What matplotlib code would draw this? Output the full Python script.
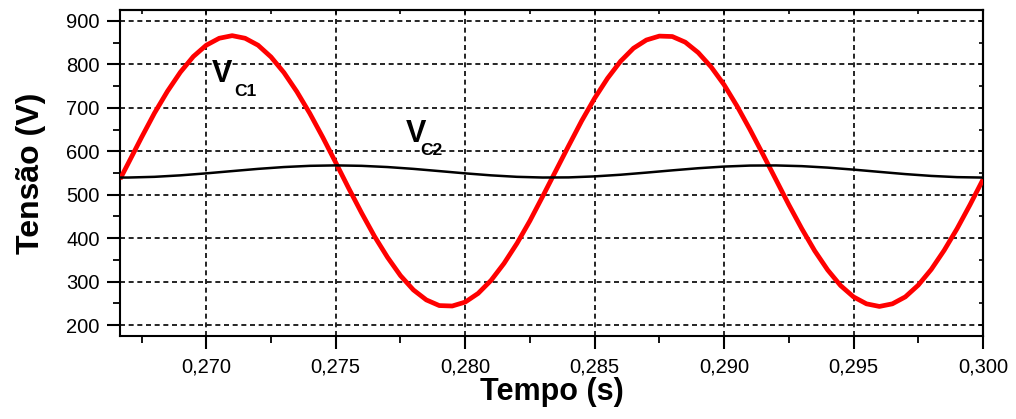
import matplotlib
matplotlib.use("Agg")
import matplotlib.pyplot as plt
from matplotlib.ticker import FixedLocator, FixedFormatter, MultipleLocator

plt.rcParams['font.family'] = ['Liberation Sans', 'DejaVu Sans']

# ---- data ----
t_vc1 = [0.26667, 0.2670, 0.2675, 0.2680, 0.2685, 0.2690, 0.2695, 0.2700, 0.2705,
         0.2710, 0.2715, 0.2720, 0.2725, 0.2730, 0.2735, 0.2740, 0.2745, 0.2750,
         0.2755, 0.2760, 0.2765, 0.2770, 0.2775, 0.2780, 0.2785, 0.2790, 0.2795,
         0.2800, 0.2805, 0.2810, 0.2815, 0.2820, 0.2825, 0.2830, 0.2835, 0.2840,
         0.2845, 0.2850, 0.2855, 0.2860, 0.2865, 0.2870, 0.2875, 0.2880, 0.2885,
         0.2890, 0.2895, 0.2900, 0.2905, 0.2910, 0.2915, 0.2920, 0.2925, 0.2930,
         0.2935, 0.2940, 0.2945, 0.2950, 0.2955, 0.2960, 0.2965, 0.2970, 0.2975,
         0.2980, 0.2985, 0.2990, 0.2995, 0.3000]
vc1 = [536, 574, 632, 688, 738, 782, 818, 844, 860,
       866, 860, 844, 817, 781, 737, 687, 632, 574,
       515, 458, 404, 356, 314, 281, 258, 245, 244,
       253, 273, 303, 342, 388, 440, 497, 555, 613,
       670, 722, 768, 807, 837, 856, 865, 864, 851,
       827, 794, 753, 704, 650, 593, 535, 477, 422,
       371, 327, 291, 265, 249, 243, 249, 265, 292,
       328, 372, 422, 477, 535]

t_vc2 = [0.26667, 0.2670, 0.2680, 0.2690, 0.2700, 0.2710, 0.2720, 0.2730, 0.2740,
         0.2750, 0.2760, 0.2770, 0.2780, 0.2790, 0.2800, 0.2810, 0.2820, 0.2830,
         0.2840, 0.2850, 0.2860, 0.2870, 0.2880, 0.2890, 0.2900, 0.2910, 0.2920,
         0.2930, 0.2940, 0.2950, 0.2960, 0.2970, 0.2980, 0.2990, 0.3000]
vc2 = [539.5, 539.6, 541.2, 544.6, 549.2, 554.4, 559.5, 563.7, 566.5,
       567.5, 566.5, 563.7, 559.5, 554.4, 549.2, 544.6, 541.2, 539.6,
       539.9, 542.2, 546.0, 550.9, 556.1, 561.0, 564.8, 567.1, 567.4,
       565.8, 562.4, 557.8, 552.6, 547.5, 543.3, 540.5, 539.5]

x_ticks = [0.270, 0.275, 0.280, 0.285, 0.290, 0.295, 0.300]
x_tick_labels = ['0,270', '0,275', '0,280', '0,285', '0,290', '0,295', '0,300']
y_ticks = [200, 300, 400, 500, 600, 700, 800, 900]
y_tick_labels = ['200', '300', '400', '500', '600', '700', '800', '900']

x_label = 'Tempo (s)'
y_label = 'Tensão (V)'

# ---- figure ----
fig = plt.figure(figsize=(10.16, 4.19), dpi=100)
ax = fig.add_axes([0.1181, 0.1981, 0.9675 - 0.1181, 0.9761 - 0.1981])

ax.plot(t_vc1, vc1, color='#ff0000', lw=3.4, solid_capstyle='butt', zorder=3)
ax.plot(t_vc2, vc2, color='black', lw=1.8, zorder=4)

ax.set_xlim(0.266667, 0.300)
ax.set_ylim(175, 925)

ax.xaxis.set_major_locator(FixedLocator(x_ticks))
ax.xaxis.set_major_formatter(FixedFormatter(x_tick_labels))
ax.xaxis.set_minor_locator(MultipleLocator(0.0025))
ax.yaxis.set_major_locator(FixedLocator(y_ticks))
ax.yaxis.set_major_formatter(FixedFormatter(y_tick_labels))
ax.yaxis.set_minor_locator(MultipleLocator(50))

ax.grid(True, which='major', color='black', lw=1.2, linestyle=(0, (3.0, 2.2)), zorder=1)
ax.set_axisbelow(True)

for s in ax.spines.values():
    s.set_linewidth(1.5)

ax.tick_params(which='major', direction='out', length=9.5, width=1.5, labelsize=14.5)
ax.tick_params(which='minor', direction='out', length=5, width=1.3)
ax.tick_params(axis='x', which='major', pad=6)
ax.tick_params(axis='y', which='major', pad=5)

# mirrored inward ticks on top / right
secx = ax.secondary_xaxis('top')
secx.xaxis.set_major_locator(FixedLocator(x_ticks))
secx.xaxis.set_minor_locator(MultipleLocator(0.0025))
secx.tick_params(which='both', direction='in', length=3, width=1.2, labeltop=False)
secx.spines['top'].set_linewidth(1.5)
secy = ax.secondary_yaxis('right')
secy.yaxis.set_major_locator(FixedLocator(y_ticks))
secy.yaxis.set_minor_locator(MultipleLocator(50))
secy.tick_params(which='both', direction='in', length=3, width=1.2, labelright=False)
secy.spines['right'].set_linewidth(1.5)

ax.set_xlabel(x_label, fontsize=22, fontweight='bold', labelpad=0)
ax.set_ylabel(y_label, fontsize=23, fontweight='bold', labelpad=15)

# curve labels
ax.text(0.27022, 759, 'V', fontsize=22, fontweight='bold', ha='left', va='baseline', zorder=5)
ax.text(0.27107, 727, 'C1', fontsize=12.5, fontweight='bold', ha='left', va='baseline', zorder=5)
ax.text(0.27770, 622, 'V', fontsize=22, fontweight='bold', ha='left', va='baseline', zorder=5)
ax.text(0.27828, 591, 'C2', fontsize=12.5, fontweight='bold', ha='left', va='baseline', zorder=5)

fig.savefig('out.png', dpi=100)
